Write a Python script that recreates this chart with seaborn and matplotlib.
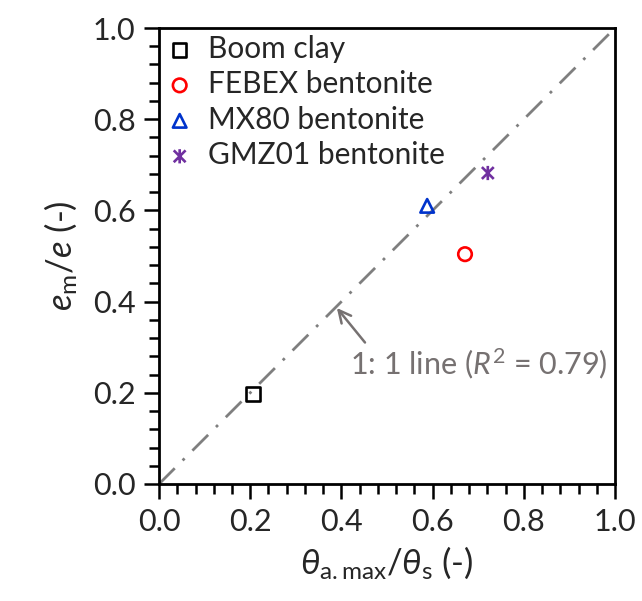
import matplotlib
matplotlib.use('Agg')
import matplotlib.pyplot as plt
import seaborn as sns
from matplotlib.path import Path
from matplotlib.ticker import MultipleLocator, FormatStrFormatter

# data
materials = ['Boom clay', 'FEBEX bentonite', 'MX80 bentonite', 'GMZ01 bentonite']
theta_ratio = [0.206, 0.671, 0.588, 0.721]
void_ratio = [0.197, 0.504, 0.610, 0.682]
colors = ['black', '#FF0000', '#0033CC', '#7030A0']

# Excel-style "star" marker: an x with a vertical bar
star = Path([(-1, -1), (1, 1), (-1, 1), (1, -1), (0, -1.2), (0, 1.2)],
            [Path.MOVETO, Path.LINETO, Path.MOVETO, Path.LINETO, Path.MOVETO, Path.LINETO])
markers = ['s', 'o', '^', star]
sizes = [95, 95, 95, 105]
one_to_one = [0.0, 1.0]

sns.set_style('ticks')
plt.rcParams['font.family'] = ['Lato', 'DejaVu Sans']
plt.rcParams['mathtext.fontset'] = 'custom'
plt.rcParams['mathtext.rm'] = 'Lato'
plt.rcParams['mathtext.it'] = 'Lato:italic'

fig = plt.figure(figsize=(6.42, 6.01), dpi=100)
ax = fig.add_axes([0.2477, 0.1947, 0.7103, 0.7587])

# 1:1 line
sns.lineplot(x=one_to_one, y=one_to_one, ax=ax, color='#7F7F7F', lw=2,
             dashes=False, linestyle=(0, (8, 4, 1, 4)), zorder=1)

for name, xv, yv, c, m, sz in zip(materials, theta_ratio, void_ratio, colors, markers, sizes):
    sns.scatterplot(x=[xv], y=[yv], ax=ax, marker=m, facecolor='none',
                    edgecolor=c, s=sz, linewidth=1.9, label=name, zorder=3)

ax.set_xlim(0, 1)
ax.set_ylim(0, 1)
ax.xaxis.set_major_locator(MultipleLocator(0.2))
ax.yaxis.set_major_locator(MultipleLocator(0.2))
ax.xaxis.set_minor_locator(MultipleLocator(0.04))
ax.yaxis.set_minor_locator(MultipleLocator(0.04))
ax.xaxis.set_major_formatter(FormatStrFormatter('%.1f'))
ax.yaxis.set_major_formatter(FormatStrFormatter('%.1f'))
ax.tick_params(which='major', direction='out', length=11, width=1.8,
               labelsize=22, pad=6, color='black')
ax.tick_params(which='minor', direction='out', length=7, width=1.8, color='black')
for s in ax.spines.values():
    s.set_linewidth(2)
    s.set_color('black')

ax.set_xlabel(r'$\mathit{\theta}_{\mathrm{a.max}}/\mathit{\theta}_{\mathrm{s}}$ (-)',
              fontsize=25, labelpad=6)
ax.set_ylabel(r'$\mathit{e}_{\mathrm{m}}/\mathit{e}$ (-)', fontsize=25, labelpad=10)

ax.annotate(r'1: 1 line ($\mathit{R}^2$ = 0.79)', xy=(0.39, 0.386), xytext=(0.418, 0.265),
            fontsize=22, color='#767171', va='center', ha='left',
            arrowprops=dict(arrowstyle='->', color='#767171', lw=1.8,
                            shrinkA=0, shrinkB=0, mutation_scale=22,
                            relpos=(0.07, 1.0)))

leg = ax.legend(loc='upper left', bbox_to_anchor=(-0.031, 1.018), frameon=False,
                fontsize=21.5, handletextpad=0.27, labelspacing=0.25,
                borderaxespad=0.1, handlelength=1.33, scatterpoints=1)

fig.savefig('out.png', dpi=100)
